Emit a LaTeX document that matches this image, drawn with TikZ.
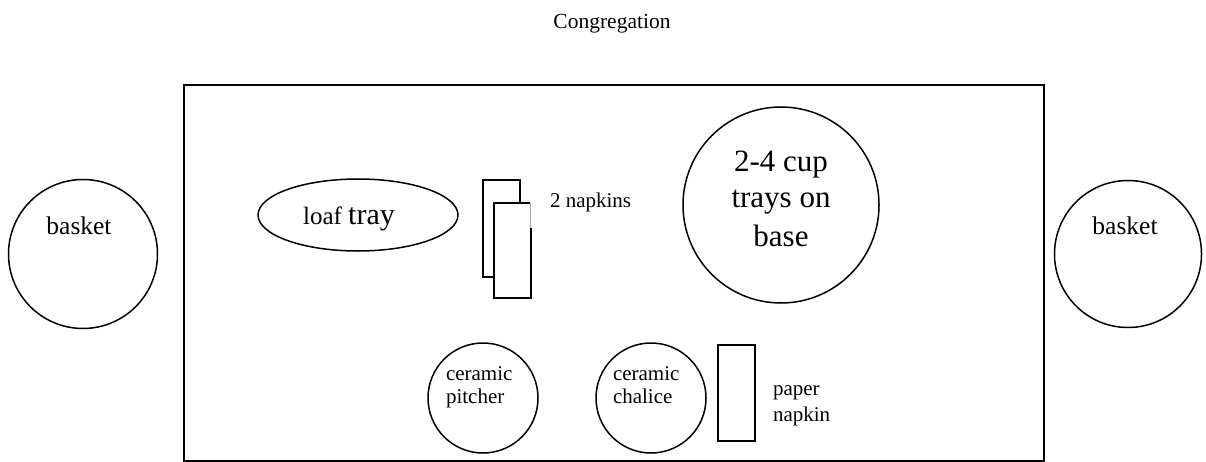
\documentclass[tikz,border=0pt]{standalone}
\usepackage{fontspec}
\setmainfont{Liberation Serif}
\usetikzlibrary{shapes.geometric}
\tikzset{
  shape line/.style={draw=black, line width=1.5pt},
  table line/.style={draw=black, line width=2pt},
  txt/.style={inner sep=0pt, outer sep=0pt},
}
\newcommand{\fs}[2]{\fontsize{#1}{#2}\selectfont}
\begin{document}
\begin{tikzpicture}[x=1pt,y=-1pt]
\useasboundingbox[fill=white] (0,0) rectangle (1206,462);
% table
\node[table line, rectangle, minimum width=860pt, minimum height=376pt, inner sep=0pt, anchor=north west] (table) at (183,84) {};
% title
\node[txt, anchor=base, font=\fs{21.5}{24}] (congr) at (612,29) {Congregation};
% baskets
\node[shape line, circle, minimum size=149pt, inner sep=0pt] (basketL) at (83,254) {};
\node[txt, anchor=base, font=\fs{25.5}{28}] (basketLt) at (79,234) {basket};
\node[shape line, circle, minimum size=147pt, inner sep=0pt] (basketR) at (1128,254) {};
\node[txt, anchor=base, font=\fs{25.5}{28}] (basketRt) at (1125,234) {basket};
% loaf tray
\node[shape line, ellipse, minimum width=200pt, minimum height=72pt, inner sep=0pt] (loaf) at (358,215) {};
\node[txt, anchor=base, font=\fs{25}{28}] (loaft) at (349,225) {loaf {\fs{30}{32}tray}};
% two napkins
\node[draw=black, line width=2pt, fill=white, rectangle, minimum width=37pt, minimum height=97pt, inner sep=0pt, anchor=north west] (nap1) at (482,179) {};
\fill[white] (494,203) rectangle (531,298);
\coordinate (n2tl) at (494,203);
\coordinate (n2tr) at (530,203);
\coordinate (n2mr) at (530,228);
\coordinate (n2rm) at (531,228);
\coordinate (n2br) at (531,298);
\coordinate (n2bl) at (494,298);
\draw[line width=2pt] (n2rm) -- (n2br) -- (n2bl) -- (n2tl) -- (n2tr);
\draw[line width=0.6pt, gray!70] (n2tr) -- (n2mr);
\node[txt, anchor=base west, font=\fs{21}{24}] (napt) at (550,208) {2 napkins};
% cup trays
\node[shape line, circle, minimum size=196pt, inner sep=0pt] (cups) at (781,205) {};
\node[txt, anchor=base, font=\fs{31}{37}] (cups1) at (781,172) {2-4 cup};
\node[txt, anchor=base, font=\fs{31}{37}] (cups2) at (781,208) {trays on};
\node[txt, anchor=base, font=\fs{31}{37}] (cups3) at (781,247) {base};
% pitcher
\node[shape line, circle, minimum size=110pt, inner sep=0pt] (pitcher) at (483,398) {};
\node[txt, anchor=base west, font=\fs{21}{23}] (pitch1) at (446,380) {ceramic};
\node[txt, anchor=base west, font=\fs{21}{23}] (pitch2) at (446,403) {pitcher};
% chalice
\node[shape line, circle, minimum size=110pt, inner sep=0pt] (chalice) at (651,398) {};
\node[txt, anchor=base west, font=\fs{21}{23}] (chal1) at (613,380) {ceramic};
\node[txt, anchor=base west, font=\fs{21}{23}] (chal2) at (613,403) {chalice};
% paper napkin
\node[draw=black, line width=2pt, rectangle, minimum width=37pt, minimum height=96pt, inner sep=0pt, anchor=north west] (paper) at (717,344) {};
\node[txt, anchor=base west, font=\fs{21}{23}] (paper1) at (773,395) {paper};
\node[txt, anchor=base west, font=\fs{21}{23}] (paper2) at (773,421) {napkin};
\end{tikzpicture}
\end{document}
